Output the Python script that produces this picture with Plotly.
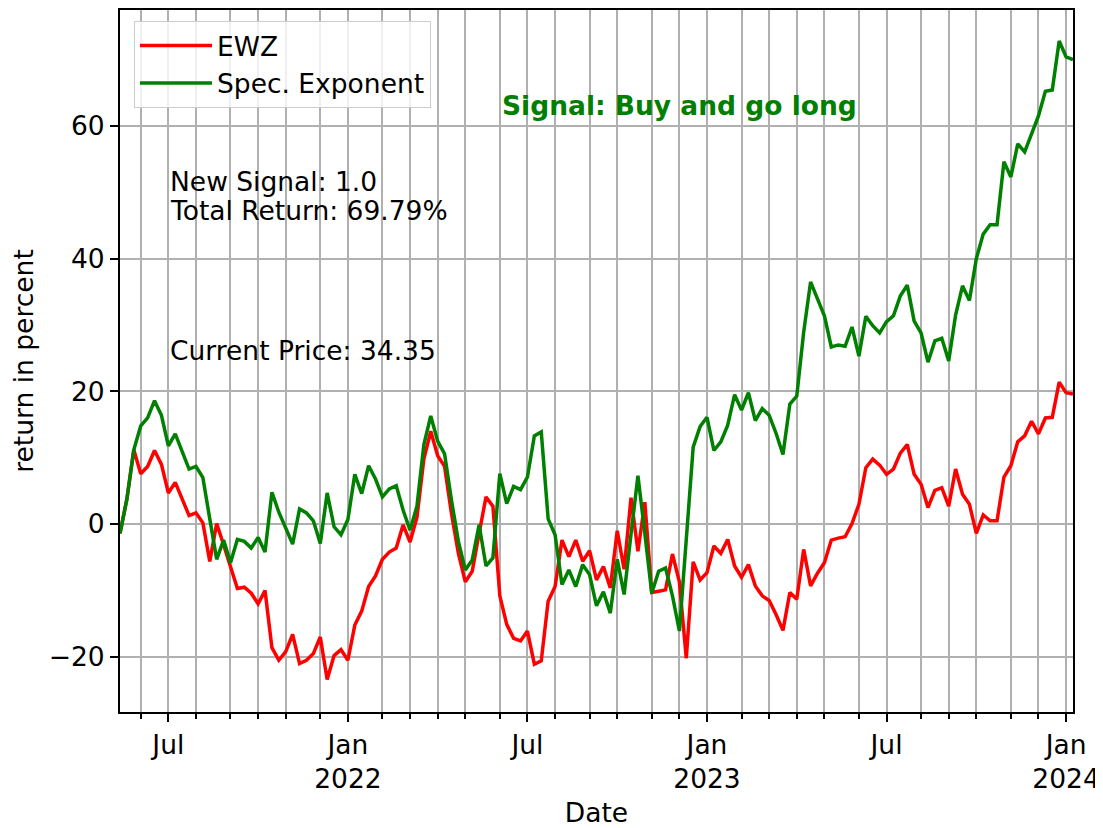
import pandas as pd
import plotly.graph_objects as go

start_date = "2021-05-17"
n_weeks = 139

ewz = [
    -1.4, 3.8, 11.2, 7.6, 8.7, 11.1, 9.0, 4.7, 6.3, 3.8,
    1.3, 1.7, 0.2, -5.6, 0.1, -3.1, -6.2, -9.7, -9.5, -10.4,
    -12.0, -10.0, -18.6, -20.5, -19.2, -16.6, -21.0, -20.5, -19.5, -17.0,
    -23.4, -19.8, -18.9, -20.5, -15.2, -13.1, -9.4, -7.8, -5.3, -4.2,
    -3.6, -0.1, -2.7, 1.0, 9.8, 14.0, 10.3, 8.7, 1.6, -4.4,
    -8.7, -7.1, -1.4, 4.1, 2.7, -10.8, -15.1, -17.2, -17.6, -16.1,
    -21.1, -20.6, -11.6, -9.4, -2.4, -4.9, -2.4, -5.6, -4.0, -8.4,
    -6.4, -9.6, -1.0, -6.8, 4.0, -4.1, 3.3, -10.3, -10.1, -9.9,
    -4.5, -8.7, -20.2, -5.7, -8.4, -7.3, -3.3, -4.4, -2.3, -6.3,
    -8.0, -6.1, -9.3, -10.8, -11.5, -13.6, -16.0, -10.3, -11.3, -3.8,
    -9.3, -7.4, -5.8, -2.4, -2.1, -1.9, 0.1, 3.0, 8.5, 9.8,
    8.9, 7.5, 8.3, 10.7, 12.0, 7.5, 6.0, 2.5, 5.1, 5.5,
    2.7, 8.3, 4.5, 3.0, -1.4, 1.4, 0.5, 0.5, 7.1, 8.8,
    12.4, 13.3, 15.5, 13.6, 16.0, 16.1, 21.4, 19.8, 19.6,
]

spec_exponent = [
    -1.4, 3.8, 11.2, 14.8, 16.0, 18.6, 16.4, 11.8, 13.6, 10.9,
    8.3, 8.7, 7.0, 0.8, -5.3, -2.4, -5.8, -2.3, -2.6, -3.6,
    -2.0, -4.2, 4.8, 1.8, -0.6, -3.0, 2.3, 1.7, 0.5, -2.9,
    4.7, -0.4, -1.6, 0.7, 7.5, 4.6, 8.8, 6.8, 4.1, 5.3,
    5.8, 2.1, -0.9, 2.7, 12.0, 16.3, 12.5, 10.6, 3.6, -2.6,
    -6.9, -5.4, -0.1, -6.3, -5.1, 7.6, 3.1, 5.7, 5.2, 7.1,
    13.3, 13.9, 0.8, -1.6, -9.1, -6.9, -9.4, -6.1, -7.6, -12.3,
    -10.2, -13.4, -5.3, -10.6, -1.5, 7.3, -1.4, -10.4, -7.1, -6.6,
    -10.8, -16.1, -2.3, 11.6, 14.7, 16.1, 11.1, 12.4, 14.9, 19.5,
    17.2, 19.8, 15.6, 17.4, 16.4, 13.7, 10.5, 18.1, 19.3, 28.9,
    36.5, 33.9, 31.4, 26.7, 27.0, 26.8, 29.7, 25.3, 31.3, 29.9,
    28.8, 30.5, 31.4, 34.4, 36.0, 30.6, 28.8, 24.4, 27.6, 28.0,
    24.6, 31.5, 35.9, 33.7, 40.0, 43.7, 45.1, 45.1, 54.6, 52.3,
    57.3, 56.1, 58.9, 61.5, 65.2, 65.4, 72.8, 70.4, 70.0,
]

y_ticks = [-20, 0, 20, 40, 60]
signal_text = "Signal: Buy and go long"
info_lines = ["New Signal: 1.0", "Total Return: 69.79%"]
price_text = "Current Price: 34.35"

dates = pd.date_range(start_date, periods=n_weeks, freq="7D")

# month-start ticks: first weekly period of each month
major_vals, major_text, minor_vals = [], [], []
for k in range(1, len(dates)):
    if dates[k].month != dates[k - 1].month:
        d = dates[k]
        if d.month == 7:
            major_vals.append(d); major_text.append("Jul")
        elif d.month == 1:
            major_vals.append(d); major_text.append(f"Jan<br>{d.year}")
        else:
            minor_vals.append(d)

FONT = "DejaVu Sans"
FS = 26.5
GRID = "#b0b0b0"

fig = go.Figure()
fig.add_trace(go.Scatter(x=dates, y=ewz, mode="lines", name="EWZ",
                         line=dict(color="#ff0000", width=3.5)))
fig.add_trace(go.Scatter(x=dates, y=spec_exponent, mode="lines", name="Spec. Exponent",
                         line=dict(color="#008000", width=3.5)))

fig.update_layout(
    width=1095, height=820,
    margin=dict(l=112, r=30, t=0, b=111),
    paper_bgcolor="white", plot_bgcolor="white",
    font=dict(family=FONT, size=FS, color="black"),
    showlegend=True,
    legend=dict(x=0.0147, y=0.9845, xanchor="left", yanchor="top",
                bgcolor="rgba(255,255,255,0.8)", bordercolor="#cccccc",
                borderwidth=1, font=dict(size=FS), itemwidth=72),
)

fig.update_xaxes(
    range=[dates[0], dates[-1]],
    tickmode="array", tickvals=major_vals, ticktext=major_text,
    ticklabeloverflow="allow",
    ticks="outside", ticklen=8, tickwidth=2, tickcolor="black",
    showgrid=True, gridcolor=GRID, gridwidth=1.9,
    minor=dict(tickmode="array", tickvals=minor_vals, ticks="outside",
               ticklen=5, tickwidth=2, tickcolor="black",
               showgrid=True, gridcolor=GRID, gridwidth=1.9),
    showline=True, linecolor="black", linewidth=2, mirror=True,
    zeroline=False,
    title=dict(text="Date", standoff=15, font=dict(size=FS)),
    tickfont=dict(size=FS),
)
fig.update_yaxes(
    range=[-28.3, 77.46],
    tickmode="array", tickvals=y_ticks,
    ticks="outside", ticklen=8, tickwidth=2, tickcolor="black",
    showgrid=True, gridcolor=GRID, gridwidth=1.9,
    showline=True, linecolor="black", linewidth=2, mirror=True,
    zeroline=False,
    title=dict(text="return in percent", standoff=8, font=dict(size=FS)),
    tickfont=dict(size=FS),
)

fig.add_annotation(text=f"<b>{signal_text}</b>", xref="paper", yref="paper",
                   x=0.5876, y=0.8646, xanchor="center", yanchor="middle",
                   showarrow=False, font=dict(size=FS, color="#008000", family=FONT))
fig.add_annotation(text=info_lines[0], xref="paper", yref="paper",
                   x=0.0504, y=0.756, xanchor="left", yanchor="middle",
                   showarrow=False, font=dict(size=FS, family=FONT))
fig.add_annotation(text=info_lines[1], xref="paper", yref="paper",
                   x=0.0504, y=0.7137, xanchor="left", yanchor="middle",
                   showarrow=False, font=dict(size=FS, family=FONT))
fig.add_annotation(text=price_text, xref="paper", yref="paper",
                   x=0.0504, y=0.5148, xanchor="left", yanchor="middle",
                   showarrow=False, font=dict(size=FS, family=FONT))

fig.write_html("out.html")
